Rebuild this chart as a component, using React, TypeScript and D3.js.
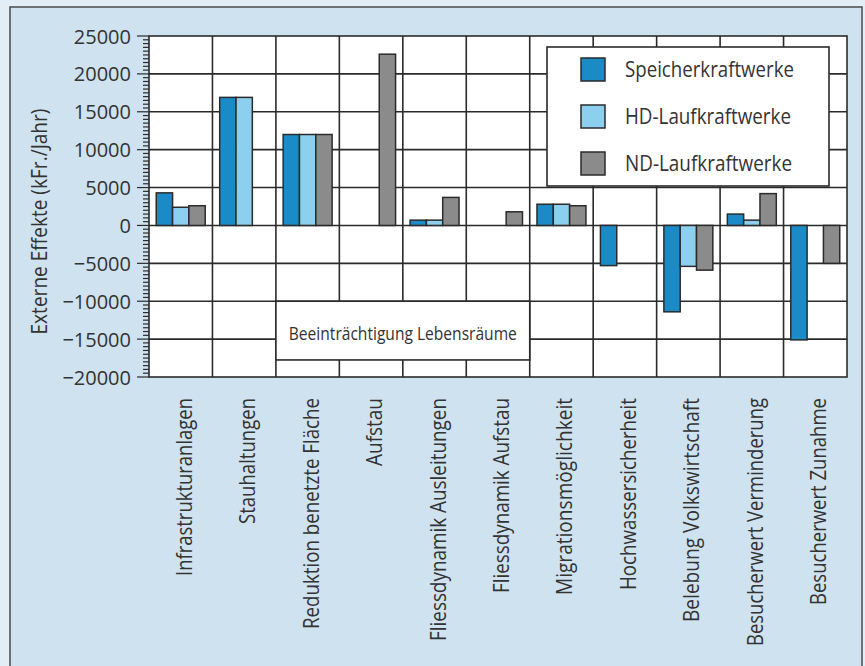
import React from "react";
import * as d3 from "d3";

const categories = [
  "Infrastrukturanlagen",
  "Stauhaltungen",
  "Reduktion benetzte Fläche",
  "Aufstau",
  "Fliessdynamik Ausleitungen",
  "Fliessdynamik Aufstau",
  "Migrationsmöglichkeit",
  "Hochwassersicherheit",
  "Belebung Volkswirtschaft",
  "Besucherwert Verminderung",
  "Besucherwert Zunahme",
];
const seriesNames = ["Speicherkraftwerke", "HD-Laufkraftwerke", "ND-Laufkraftwerke"];
const speicher = [4300, 16900, 12000, 0, 700, 0, 2800, -5300, -11400, 1500, -15100];
const hdLauf = [2400, 16900, 12000, 0, 700, 0, 2800, 0, -5400, 700, 0];
const ndLauf = [2600, 0, 12000, 22600, 3700, 1800, 2600, 0, -5900, 4200, -5000];
const yTicks = [25000, 20000, 15000, 10000, 5000, 0, -5000, -10000, -15000, -20000];
const yTitle = "Externe Effekte (kFr./Jahr)";
const annotationText = "Beeinträchtigung Lebensräume";
const annotationFrom = categories[2];
const annotationTo = categories[5];
const annotationRange = [-10000, -17750];

const labelLengths = [178, 126, 231, 68, 243, 195, 197, 192, 224, 248, 207];
const legendLengths = [169, 166, 167];

const colors = ["#1a8bc7", "#8dcfee", "#8b8b8b"];
const ink = "#2b2b2b";
const font = "'Open Sans', 'DejaVu Sans', sans-serif";

export default function App() {
  const W = 865, H = 666;
  const left = 149, right = 847, top = 36, bottom = 377;
  const x = d3.scaleBand<string>().domain(categories).range([left, right]).paddingInner(0).paddingOuter(0);
  const xs = d3.scaleBand<number>().domain([0, 1, 2]).range([0, x.bandwidth()]).paddingInner(0).paddingOuter(0.444);
  const y = d3.scaleLinear().domain([-20000, 25000]).range([bottom, top]);
  const series = [speicher, hdLauf, ndLauf];
  const minor = d3.range(-20000, 25001, 500);
  const gridY = yTicks.filter((t) => t > -20000 && t < 25000);
  const boundaries = categories.slice(1).map((c) => x(c)!);
  const annX0 = x(annotationFrom)!;
  const annX1 = x(annotationTo)! + x.bandwidth();
  const annY0 = y(annotationRange[0]);
  const annY1 = y(annotationRange[1]);
  const lw = 1.6;

  return (
    <svg width={W} height={H} style={{ position: "absolute", left: 0, top: 0 }} fontFamily={font}>
      <rect x={0} y={0} width={W} height={H} fill="#e2edf5" />
      <rect x={10} y={7} width={852} height={H} fill="#cfe2ef" stroke="#4a4a4a" strokeWidth={1.5} />
      {/* plot area */}
      <rect x={left} y={top} width={right - left} height={bottom - top} fill="#ffffff" />
      {gridY.map((t) => (
        <line key={"h" + t} x1={left} x2={right} y1={y(t)} y2={y(t)} stroke={ink} strokeWidth={lw} />
      ))}
      {boundaries.map((b, i) => (
        <line key={"v" + i} x1={b} x2={b} y1={top} y2={bottom} stroke={ink} strokeWidth={lw} />
      ))}
      {/* annotation box */}
      <rect x={annX0} y={annY0} width={annX1 - annX0} height={annY1 - annY0} fill="#ffffff" stroke={ink} strokeWidth={lw} />
      <text x={(annX0 + annX1) / 2} y={annY0 + 39} textAnchor="middle" fontSize={18} fill="#333" textLength={228} lengthAdjust="spacingAndGlyphs">
        {annotationText}
      </text>
      {/* bars */}
      {series.map((vals, si) =>
        vals.map((v, ci) =>
          v === 0 ? null : (
            <rect
              key={si + "-" + ci}
              x={x(categories[ci])! + xs(si)!}
              y={Math.min(y(v), y(0))}
              width={xs.bandwidth()}
              height={Math.abs(y(v) - y(0))}
              fill={colors[si]}
              stroke={ink}
              strokeWidth={1.5}
            />
          )
        )
      )}
      {/* legend */}
      <rect x={547} y={47} width={282} height={139} fill="#ffffff" stroke={ink} strokeWidth={lw} />
      {seriesNames.map((n, i) => (
        <g key={n}>
          <rect x={581} y={58 + i * 47} width={24} height={23} fill={colors[i]} stroke={ink} strokeWidth={1.5} />
          <text x={625} y={77 + i * 47} fontSize={21} fill="#333" textLength={legendLengths[i]} lengthAdjust="spacingAndGlyphs">
            {n}
          </text>
        </g>
      ))}
      {/* frame */}
      <rect x={left} y={top} width={right - left} height={bottom - top} fill="none" stroke={ink} strokeWidth={lw} />
      {/* y axis */}
      {minor.map((t) => (
        <line key={"m" + t} x1={t % 5000 === 0 ? 137 : 143} x2={left} y1={y(t)} y2={y(t)} stroke={ink} strokeWidth={1.2} />
      ))}
      {yTicks.map((t) => (
        <text key={"t" + t} x={131} y={y(t) + 7.5} textAnchor="end" fontSize={20} fill="#333">
          {t < 0 ? "\u2212" + Math.abs(t) : String(t)}
        </text>
      ))}
      <text transform={`translate(47,${(top + bottom) / 2 + 15}) rotate(-90)`} textAnchor="middle" fontSize={21} fill="#333" textLength={226} lengthAdjust="spacingAndGlyphs">
        {yTitle}
      </text>
      {/* x labels */}
      {categories.map((c, i) => (
        <text
          key={"x" + c}
          transform={`translate(${x(c)! + x.bandwidth() / 2 + 11},398) rotate(-90)`}
          textAnchor="end"
          fontSize={21}
          fill="#333"
          textLength={labelLengths[i]}
          lengthAdjust="spacingAndGlyphs"
        >
          {c}
        </text>
      ))}
    </svg>
  );
}
